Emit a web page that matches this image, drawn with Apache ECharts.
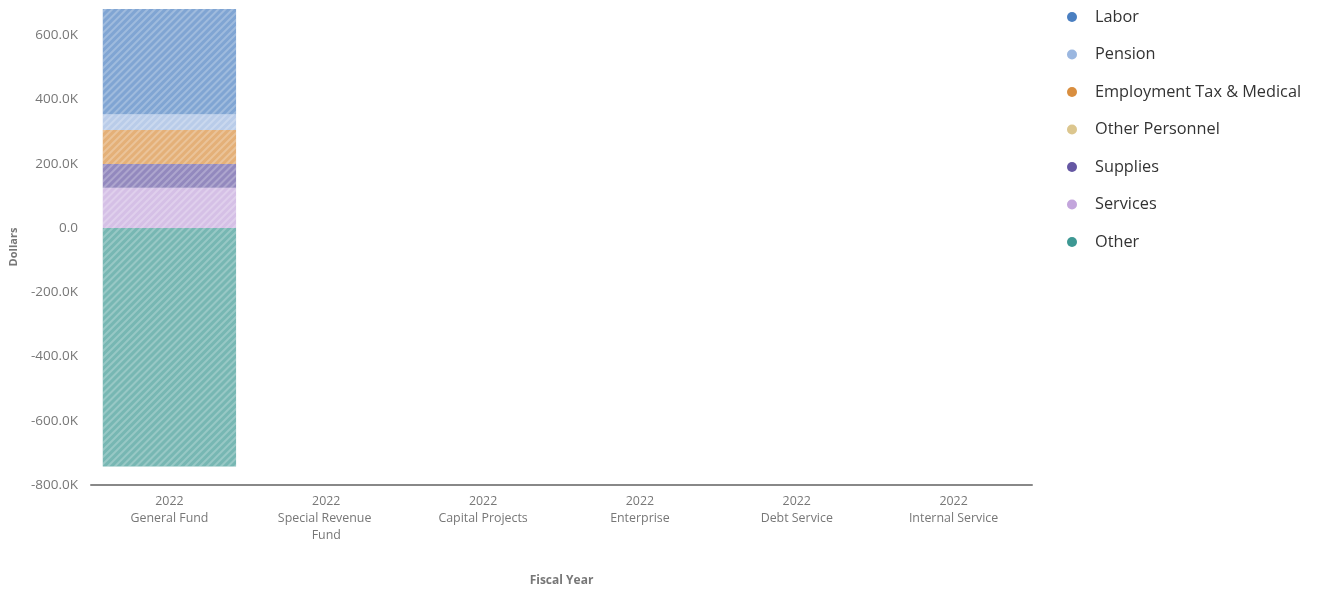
<!DOCTYPE html>
<html>
<head>
<meta charset="utf-8">
<script src="https://cdn.jsdelivr.net/npm/echarts@6/dist/echarts.min.js"></script>
<style>
  html, body { margin: 0; padding: 0; background: #fff; }
  #chart { width: 1317px; height: 594px; }
</style>
</head>
<body>
<div id="chart"></div>
<script>
// Fund categories along the x axis (all fiscal year 2022)
const fiscalYear = '2022';
const funds = ['General Fund', 'Special Revenue Fund', 'Capital Projects', 'Enterprise', 'Debt Service', 'Internal Service'];

// Expense types, in legend order, with their colours
const expenseTypes = ['Labor', 'Pension', 'Employment Tax & Medical', 'Other Personnel', 'Supplies', 'Services', 'Other'];
const expenseColors = ['#4a7fc1', '#9bb7e0', '#d98e3f', '#dcc68e', '#6557a3', '#c3a5dc', '#3d9893'];

// Dollars per expense type, one value per fund
const labor          = [327600, null, null, null, null, null];
const pension        = [48800, null, null, null, null, null];
const employmentTax  = [105800, null, null, null, null, null];
const otherPersonnel = [0, null, null, null, null, null];
const supplies       = [73700, null, null, null, null, null];
const services       = [125400, null, null, null, null, null];
const other          = [-742600, null, null, null, null, null];

const valuesByType = {
  'Labor': labor,
  'Pension': pension,
  'Employment Tax & Medical': employmentTax,
  'Other Personnel': otherPersonnel,
  'Supplies': supplies,
  'Services': services,
  'Other': other
};

// Stack from the bottom up: Other, Services, Supplies, ... Labor on top
const stackOrder = expenseTypes.slice().reverse();

const chart = echarts.init(document.getElementById('chart'), null, { renderer: 'canvas' });

const fontFamily = '"Open Sans", Lato, sans-serif';

const series = stackOrder.map(function (name) {
  const color = expenseColors[expenseTypes.indexOf(name)];
  return {
    name: name,
    type: 'bar',
    stack: 'total',
    barWidth: '85%',
    data: valuesByType[name],
    itemStyle: {
      color: color,
      opacity: 0.7,
      decal: {
        symbol: 'rect',
        symbolSize: 1,
        dashArrayX: [1, 0],
        dashArrayY: [2, 3],
        rotation: -Math.PI / 4,
        color: 'rgba(255,255,255,0.35)'
      }
    },
    emphasis: { disabled: true }
  };
});

chart.setOption({
  animation: false,
  textStyle: { fontFamily: fontFamily },
  grid: { left: 88, right: 285, top: 9, bottom: 109, containLabel: false },
  legend: {
    data: expenseTypes,
    orient: 'vertical',
    left: 1062,
    top: 4,
    icon: 'circle',
    itemWidth: 10,
    itemHeight: 10,
    itemGap: 21.5,
    itemStyle: { opacity: 1, decal: 'none' },
    textStyle: { fontSize: 16.3, color: '#333', fontFamily: fontFamily, padding: [0, 0, 0, 13] }
  },
  xAxis: {
    type: 'category',
    data: funds,
    name: 'Fiscal Year',
    nameLocation: 'middle',
    nameGap: 90,
    nameTextStyle: { fontSize: 12, fontWeight: 'bold', color: '#777', fontFamily: fontFamily },
    axisLine: { onZero: false, lineStyle: { color: '#888', width: 2 } },
    axisTick: { show: false },
    axisLabel: {
      interval: 0,
      margin: 8,
      color: '#777',
      fontSize: 12.4,
      lineHeight: 17,
      width: 120,
      overflow: 'break',
      formatter: function (v) { return fiscalYear + '\n' + v; }
    },
    splitLine: { show: false }
  },
  yAxis: {
    type: 'value',
    min: -800000,
    max: 'dataMax',
    interval: 200000,
    name: 'Dollars',
    nameLocation: 'middle',
    nameGap: 72,
    nameTextStyle: { fontSize: 11, fontWeight: 'bold', color: '#777', fontFamily: fontFamily },
    axisLine: { show: false },
    axisTick: { show: false },
    splitLine: { show: false },
    axisLabel: {
      margin: 13,
      color: '#777',
      fontSize: 13.5,
      showMaxLabel: false,
      formatter: function (v) {
        if (v === 0) return '0.0';
        return (v / 1000).toFixed(1) + 'K';
      }
    }
  },
  series: series
});
</script>
</body>
</html>
